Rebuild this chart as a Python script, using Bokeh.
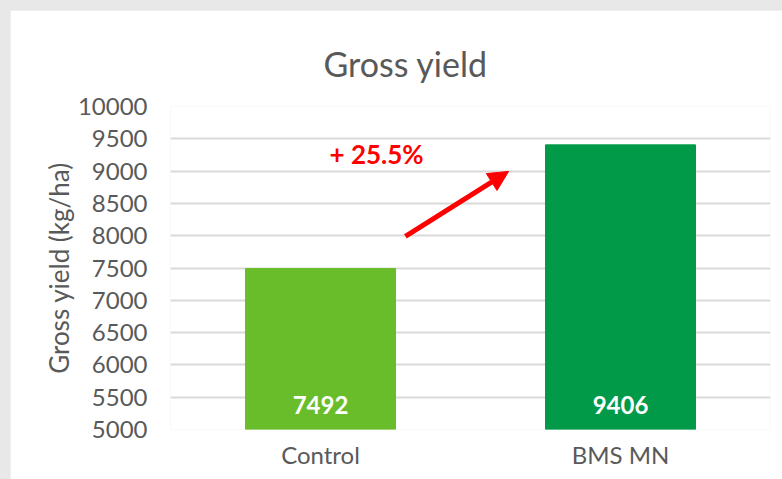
from bokeh.plotting import figure
from bokeh.models import ColumnDataSource, FixedTicker, Arrow, NormalHead, Range1d, FactorRange, Label
from bokeh.core.properties import value
from bokeh.embed import file_html
from bokeh.resources import INLINE

# ---- data ----
categories = ["Control", "BMS MN"]
yields = [7492, 9406]
bar_colors = ["#6abd2a", "#009a48"]
y_ticks = [5000, 5500, 6000, 6500, 7000, 7500, 8000, 8500, 9000, 9500, 10000]
increase_label = "+ 25.5%"
title_text = "Gross yield"
y_label = "Gross yield (kg/ha)"

FONT = "Lato"
GREY = "#595959"

src = ColumnDataSource(dict(cat=categories, val=yields, color=bar_colors,
                            label=[str(v) for v in yields]))

p = figure(x_range=FactorRange(*categories, range_padding=0),
           y_range=Range1d(y_ticks[0], y_ticks[-1]),
           width=772, height=469, output_backend="svg", toolbar_location=None,
           min_border_left=160, min_border_right=12, min_border_top=96, min_border_bottom=50)
p.margin = (10, 0, 0, 10)

p.title.text = title_text
p.title.text_font = FONT
p.title.text_font_size = "34px"
p.title.text_font_style = "normal"
p.title.text_color = GREY
p.title.align = "left"
p.title.offset = 153
p.title.vertical_align = "top"
p.title.standoff = 42

p.vbar(x="cat", top="val", bottom=y_ticks[0], width=0.5, color="color", source=src)

p.text(x="cat", y=y_ticks[0], text="label", source=src, y_offset=-25,
       text_align="center", text_baseline="middle", text_color="white",
       text_font=value(FONT), text_font_style="bold", text_font_size="24px")

# annotation
ann = Label(x=0.687, y=9272, text=increase_label, text_align="center", text_baseline="middle",
            text_color="#ff0000", text_font=FONT, text_font_style="bold", text_font_size="26px")
p.add_layout(ann)
p.add_layout(Arrow(x_start=0.783, y_start=7990, x_end=1.127, y_end=8995,
                   line_color="#ff0000", line_width=5,
                   end=NormalHead(size=20, fill_color="#ff0000", line_color="#ff0000")))

# axes
p.yaxis.ticker = FixedTicker(ticks=y_ticks)
p.yaxis.axis_label = y_label
for ax in (p.xaxis[0], p.yaxis[0]):
    ax.axis_line_color = None
    ax.major_tick_line_color = None
    ax.minor_tick_line_color = None
    ax.major_label_text_font = FONT
    ax.major_label_text_font_size = "24px"
    ax.major_label_text_color = GREY
p.yaxis.major_label_standoff = 17
p.yaxis.axis_label_text_font = FONT
p.yaxis.axis_label_text_font_size = "26px"
p.yaxis.axis_label_text_font_style = "normal"
p.yaxis.axis_label_text_color = GREY
p.yaxis.axis_label_standoff = 0
p.xaxis.major_label_standoff = 4

p.xgrid.grid_line_color = None
p.ygrid.grid_line_color = "#d9d9d9"
p.ygrid.grid_line_width = 2
p.outline_line_color = None
p.background_fill_color = "white"
p.border_fill_color = "white"

html = file_html(p, INLINE, title=title_text)
html = html.replace("</head>", "<style>html,body{background:#e8e8e8;overflow:hidden}</style></head>", 1)
open("out.html", "w").write(html)
